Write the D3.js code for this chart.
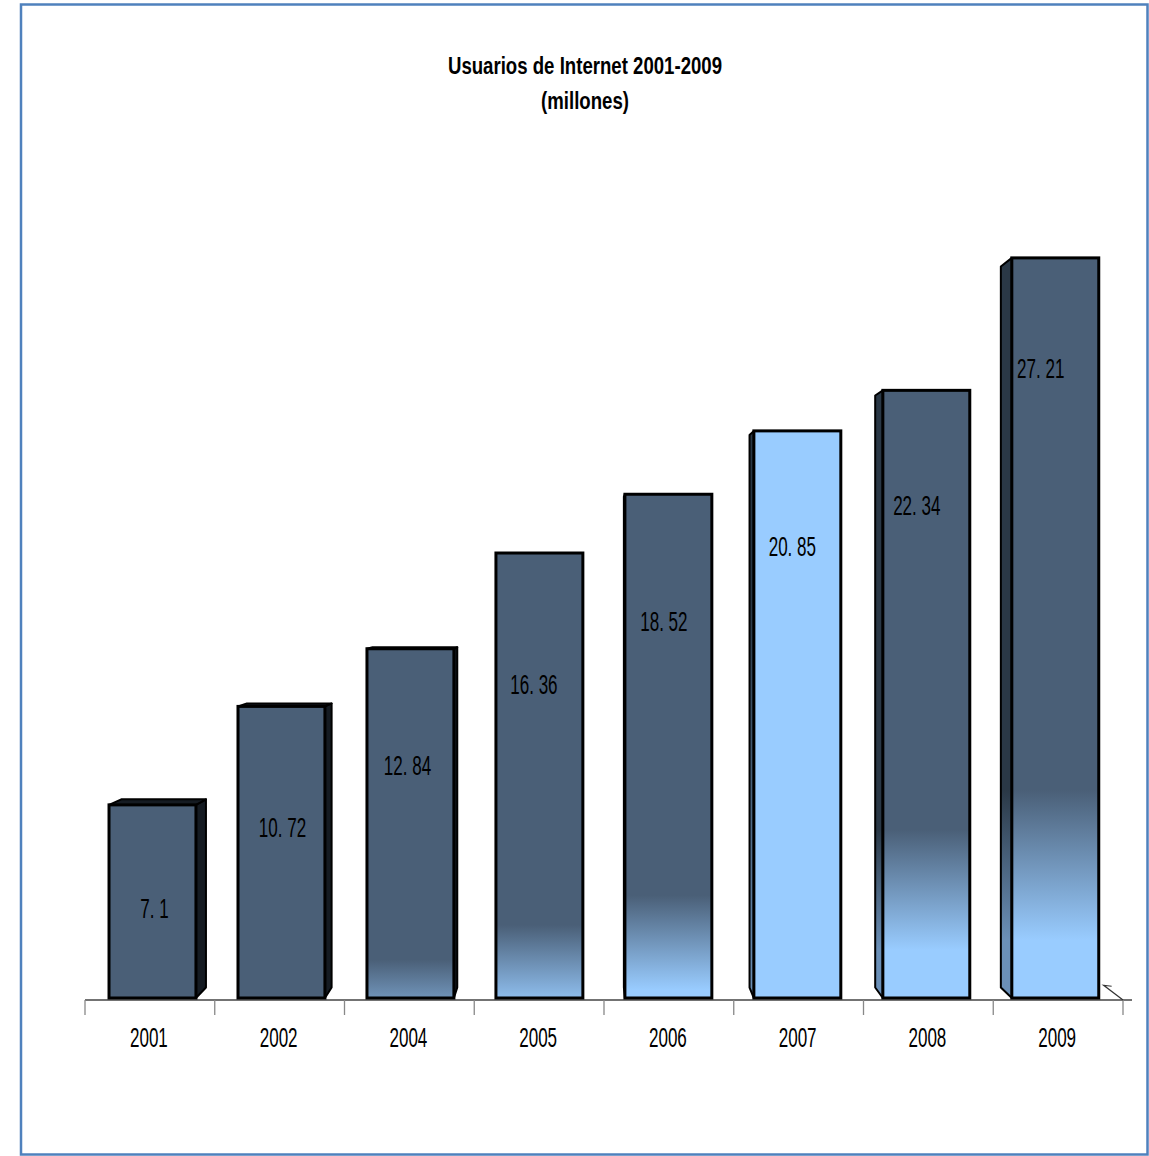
<!DOCTYPE html>
<html>
<head>
<meta charset="utf-8">
<script src="https://cdn.jsdelivr.net/npm/d3@7"></script>
<style>
  html, body { margin: 0; padding: 0; background: #ffffff; }
  svg { display: block; }
  text { font-family: "Liberation Sans", Arial, sans-serif; fill: #000; }
</style>
</head>
<body>
<svg id="chart" width="1149" height="1156"></svg>
<script>
// ---- data ----
const titleLines = ["Usuarios de Internet 2001-2009", "(millones)"];
const years = ["2001", "2002", "2004", "2005", "2006", "2007", "2008", "2009"];
const values = [7.1, 10.72, 12.84, 16.36, 18.52, 20.85, 22.34, 27.21];
const valueLabels = ["7. 1", "10. 72", "12. 84", "16. 36", "18. 52", "20. 85", "22. 34", "27. 21"];

// ---- style (not data) ----
// gradient from dark (at gradStart) to light (at gradEnd), fractions of bar height from top
const gradStart = [2, 2, 0.89, 0.836, 0.796, -1, 0.723, 0.719];
const gradEnd   = [3, 3, 1.12, 1.027, 0.984, 0, 0.921, 0.922];
const sideStart = [2, 2, 0.89, 0.836, 0.796, 0.3, 0.723, 0.719];
const sideEnd   = [3, 3, 1.12, 1.027, 0.984, 1.0, 0.921, 0.922];
const labelDy = [113, 131, 126, 141, 137, 125, 125, 120];
const labelDx = [2, 1, -3, -5.5, -4.5, -5, -9.5, -14.5];

const svg = d3.select("#chart");
const narrow = 0.62;

const x = d3.scaleBand().domain(years).range([85, 1123]).paddingInner(0.33).paddingOuter(0.165);
const y = d3.scaleLinear().domain([0, 30]).range([998, 182]);

const VP = [585, 590], T = 0.0257;
const back = (p) => [p[0] + T * (VP[0] - p[0]), p[1] + T * (VP[1] - p[1])];

const DARK = "#4a5f77", LIGHT = "#99ccff";
const SIDE_DARK = "#2a3846", SIDE_LIGHT = "#6b90b8";
const RIGHT_DARK = "#151b22";

const defs = svg.append("defs");
years.forEach((yr, i) => {
  const g = defs.append("linearGradient").attr("id", "gf" + i)
    .attr("x1", 0).attr("x2", 0).attr("y1", gradStart[i]).attr("y2", gradEnd[i]);
  g.append("stop").attr("offset", 0).attr("stop-color", DARK);
  g.append("stop").attr("offset", 1).attr("stop-color", LIGHT);
  const s = defs.append("linearGradient").attr("id", "gs" + i)
    .attr("x1", 0).attr("x2", 0).attr("y1", sideStart[i]).attr("y2", sideEnd[i]);
  s.append("stop").attr("offset", 0).attr("stop-color", SIDE_DARK);
  s.append("stop").attr("offset", 1).attr("stop-color", SIDE_LIGHT);
});

// border
svg.append("rect").attr("x", 21).attr("y", 4.5).attr("width", 1126.5).attr("height", 1150)
  .attr("fill", "none").attr("stroke", "#4f81bd").attr("stroke-width", 2.5);

// title
titleLines.forEach((t, i) => {
  svg.append("g").attr("transform", `translate(585,${74 + i * 35}) scale(0.76,1)`)
    .append("text").attr("text-anchor", "middle").attr("font-size", 24.5).attr("font-weight", "bold")
    .text(t);
});

// axis
const step = x.step();
const x0 = x.range()[0];
const axisG = svg.append("g");
axisG.append("line").attr("x1", x0).attr("x2", x.range()[1] + 9).attr("y1", 1000).attr("y2", 1000)
  .attr("stroke", "#444").attr("stroke-width", 1.3);
d3.range(years.length + 1).forEach(i => {
  const tx = x0 + i * step;
  axisG.append("line").attr("x1", tx).attr("x2", tx).attr("y1", 1000).attr("y2", 1015)
    .attr("stroke", "#888").attr("stroke-width", 1.3);
});
{
  const end = [x.range()[1], 1000];
  const b = back(end);
  const bx = end[0] + (b[0] - end[0]) * 1.4, by = end[1] + (b[1] - end[1]) * 1.4;
  axisG.append("path").attr("d", `M${bx + 8},${by + 1} L${bx},${by} L${end[0]},${end[1]}`)
    .attr("fill", "none").attr("stroke", "#333").attr("stroke-width", 1.2);
}
years.forEach(yr => {
  svg.append("g").attr("transform", `translate(${x(yr) + x.bandwidth() / 2 - 1},1047) scale(${narrow},1)`)
    .append("text").attr("text-anchor", "middle").attr("font-size", 27.5).text(yr);
});

// bars
const bars = svg.append("g");
years.forEach((yr, i) => {
  const c = x(yr) + x.bandwidth() / 2;
  const shift = -0.006 * (c - VP[0]);
  const fx0 = c + shift - x.bandwidth() / 2, fx1 = c + shift + x.bandwidth() / 2;
  const ft = y(values[i]), fb = y(0);
  const g = bars.append("g");
  if (fx1 < VP[0]) {
    const pts = [[fx1, ft], back([fx1, ft]), back([fx1, fb]), [fx1, fb]];
    g.append("polygon").attr("points", pts.map(p => p.join(",")).join(" "))
      .attr("fill", RIGHT_DARK).attr("stroke", "#000").attr("stroke-width", 2).attr("stroke-linejoin", "round");
  } else if (fx0 > VP[0]) {
    const pts = [[fx0, ft], back([fx0, ft]), back([fx0, fb]), [fx0, fb]];
    g.append("polygon").attr("points", pts.map(p => p.join(",")).join(" "))
      .attr("fill", `url(#gs${i})`).attr("stroke", "#000").attr("stroke-width", 2).attr("stroke-linejoin", "round");
  }
  if (ft > VP[1]) {
    const pts = [[fx0, ft], back([fx0, ft]), back([fx1, ft]), [fx1, ft]];
    g.append("polygon").attr("points", pts.map(p => p.join(",")).join(" "))
      .attr("fill", RIGHT_DARK).attr("stroke", "#000").attr("stroke-width", 2).attr("stroke-linejoin", "round");
  }
  g.append("rect").attr("x", fx0).attr("y", ft).attr("width", fx1 - fx0).attr("height", fb - ft)
    .attr("fill", `url(#gf${i})`).attr("stroke", "#000").attr("stroke-width", 3);
  g.append("g").attr("transform", `translate(${(fx0 + fx1) / 2 + labelDx[i]},${ft + labelDy[i]}) scale(${narrow},1)`)
    .append("text").attr("text-anchor", "middle").attr("font-size", 27.5).attr("fill", "#111").text(valueLabels[i]);
});
</script>
</body>
</html>
